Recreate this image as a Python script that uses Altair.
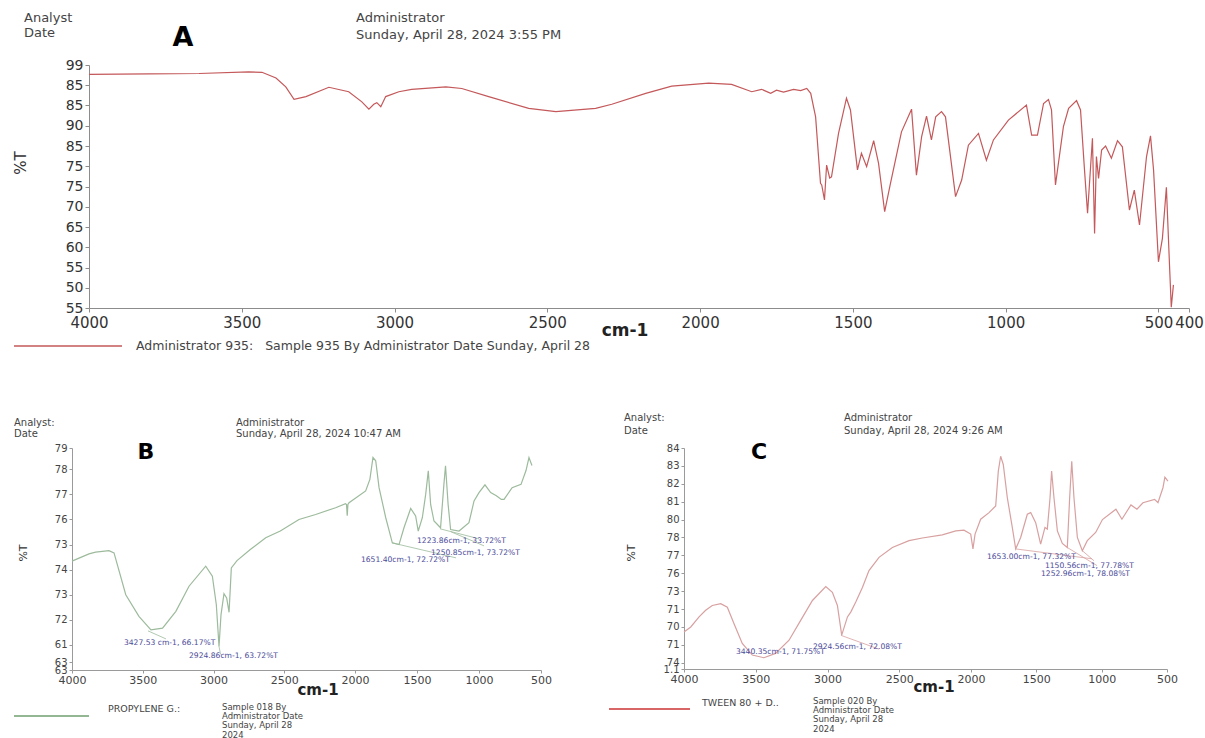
import altair as alt
import pandas as pd

# ---------------- data ----------------
A_wn = [4000,3804,3640,3477,3434,3388,3356,3329,3290,3215,
        3150,3107,3084,3068,3058,3045,3029,2986,2944,2832,
        2780,2692,2561,2472,2342,2289,2178,2093,1972,1897,
        1831,1799,1769,1750,1727,1694,1671,1651,1638,1622,
        1606,1602,1593,1586,1576,1570,1547,1521,1508,1485,
        1472,1455,1432,1416,1396,1377,1341,1308,1292,1275,
        1259,1243,1229,1210,1197,1164,1144,1122,1089,1063,
        1040,991,932,915,896,876,860,850,837,811,
        794,768,755,742,732,716,709,703,696,686,
        673,654,634,618,595,579,562,539,526,516,
        500,487,474,464,458,451]
A_T = [97.7,97.8,97.9,98.3,98.2,96.8,94.6,91.5,92.2,94.5,
       93.4,90.9,89.1,90.3,90.7,89.7,92.2,93.4,94.0,94.6,
       94.2,92.2,89.3,88.5,89.3,90.3,93.0,94.8,95.5,95.2,
       93.4,94.0,93.0,93.8,93.3,94.0,93.7,94.2,93.0,87.2,
       70.8,70.4,66.7,75.3,72.1,72.4,83.1,91.8,88.9,74.1,
       78.2,74.9,81.3,75.7,63.8,70.8,83.5,89.1,72.8,82.3,
       87.4,81.5,87.2,88.5,87.2,67.5,71.6,80.2,83.1,76.5,
       81.5,86.4,90.1,82.7,82.7,90.5,91.5,88.9,70.4,84.8,
       89.3,91.2,88.9,74.1,63.4,81.9,58.4,77.4,72.0,79.0,
       80.0,77.0,81.3,79.8,64.2,69.1,60.5,77.4,82.5,74.1,
       51.4,57.2,69.8,51.0,40.2,45.7]

B_wn = [4000,3880,3833,3739,3703,3620,3527,3442,3360,3266,
        3173,3055,3008,2980,2961,2947,2926,2907,2890,2874,
        2834,2740,2631,2528,2396,2278,2137,2067,2060,2055,
        2050,2042,1914,1880,1855,1833,1806,1752,1699,1645,
        1605,1551,1511,1490,1457,1430,1409,1390,1363,1310,
        1283,1270,1249,1229,1161,1081,1040,1000,952,906,
        860,820,798,733,661,621,597,573]
B_T = [74.34,74.63,74.70,74.76,74.67,73.00,72.14,71.60,71.67,72.34,
       73.34,74.14,73.74,72.60,70.94,72.20,73.04,72.87,72.30,74.07,
       74.36,74.80,75.27,75.54,76.00,76.20,76.47,76.63,76.60,76.15,
       76.60,76.67,77.14,77.60,78.47,78.34,77.27,76.07,75.07,75.00,
       75.67,76.44,76.14,75.54,76.07,77.00,77.94,76.60,75.94,75.67,
       77.40,78.14,76.60,75.60,75.54,75.87,76.74,77.07,77.38,77.07,
       76.95,76.80,76.80,77.27,77.40,77.95,78.47,78.15]

C_wn = [4000,3953,3895,3849,3803,3744,3698,3652,3594,3524,
        3443,3362,3268,3187,3105,3012,2966,2931,2901,2861,
        2838,2803,2756,2711,2641,2548,2432,2339,2200,2106,
        2049,2002,1985,1969,1926,1862,1811,1791,1773,1753,
        1722,1684,1658,1620,1569,1543,1505,1467,1434,1416,
        1395,1383,1365,1339,1301,1263,1245,1229,1212,1186,
        1148,1110,1046,994,891,845,776,730,684,595,
        569,531,516,493]
C_T = [73.72,74.00,74.56,74.93,75.20,75.30,75.10,74.19,73.08,72.43,
       72.28,72.52,73.26,74.37,75.48,76.26,75.94,75.20,73.54,74.56,
       74.83,75.40,76.22,77.15,77.89,78.44,78.82,78.97,79.15,79.37,
       79.41,79.19,78.36,79.19,80.02,80.39,80.76,82.71,83.54,83.08,
       81.22,79.56,78.36,79.00,80.30,80.39,79.83,78.63,79.56,79.47,
       81.22,82.71,81.22,79.37,78.67,78.44,81.22,83.26,81.22,79.00,
       78.26,78.82,79.28,80.00,80.58,80.02,80.82,80.58,80.94,81.13,
       80.94,81.78,82.37,82.15]

# peak annotations (position in data units, label text)
B_ann_wn = [3633, 3173, 1952, 1500, 1387]
B_ann_T = [71.07, 70.55, 74.39, 75.15, 74.67]
B_ann_txt = ["3427.53 cm-1, 66.17%T", "2924.86cm-1, 63.72%T", "1651.40cm-1, 72.72%T",
             "1223.86cm-1, 33.72%T", "1250.85cm-1, 73.72%T"]
B_lead_wn = [3463, 2961, 1702, 1315, 1226]
B_lead_T = [71.56, 70.94, 75.07, 75.63, 75.51]
B_lead_wn2 = [3336, 2950, 1185, 1000, 960]
B_lead_T2 = [71.24, 70.62, 74.47, 75.23, 74.95]

C_ann_wn = [3638, 3101, 1878, 1434, 1464]
C_ann_T = [72.59, 72.87, 77.92, 77.40, 76.98]
C_ann_txt = ["3440.35cm-1, 71.75%T", "2924.56cm-1, 72.08%T", "1653.00cm-1, 77.32%T",
             "1150.56cm-1, 77.78%T", "1252.96cm-1, 78.08%T"]
C_lead_wn = [2906, 1658, 1263, 1148]
C_lead_T = [73.53, 78.36, 78.44, 78.26]
C_lead_wn2 = [2641, 1074, 1036, 1059]
C_lead_T2 = [72.76, 77.81, 77.43, 77.70]

# tick values and the (printed) tick labels
A_yticks = [40, 45, 50, 55, 60, 65, 70, 75, 80, 85, 90, 95, 100]
A_ylabels = ["55", "50", "55", "60", "65", "70", "75", "75", "85", "90", "85", "85", "99"]
B_yticks = [70, 70.3, 71, 72, 73, 74, 75, 76, 77, 78, 78.85]
B_ylabels = ["63", "63", "61", "72", "73", "74", "73", "76", "77", "78", "79"]
C_yticks = [71.65, 72, 73, 74, 75, 76, 77, 78, 79, 80, 81, 82, 83, 84]
C_ylabels = ["1.1", "74", "71", "70", "71", "73", "76", "77", "78", "80", "81", "82", "83", "84"]
A_xticks = [4000, 3500, 3000, 2500, 2000, 1500, 1000, 500, 400]
BC_xticks = [4000, 3500, 3000, 2500, 2000, 1500, 1000, 500]

FONT = "DejaVu Sans"
ONE = alt.Data(values=[{"k": 0}])
NB = "\u00a0"


def label_expr(vals, labs):
    arr = "[" + ",".join("'" + l + "'" for l in labs) + "]"
    v = "[" + ",".join(str(x) for x in vals) + "]"
    return arr + "[indexof(" + v + ", datum.value)]"


def txt(s, x, y, size=11, color="#444444", align="left", baseline="middle",
        weight="normal", font=FONT, angle=None, lineHeight=None):
    kw = dict(align=align, baseline=baseline, fontSize=size, color=color,
              fontWeight=weight, font=font)
    if angle is not None:
        kw["angle"] = angle
    if lineHeight is not None:
        kw["lineHeight"] = lineHeight
    return alt.Chart(ONE).mark_text(**kw).encode(
        x=alt.value(x), y=alt.value(y), text=alt.value(s))


def legend_rule(x1, x2, y, color):
    return alt.Chart(ONE).mark_rule(color=color, strokeWidth=1.5).encode(
        x=alt.value(x1), x2=alt.value(x2), y=alt.value(y))


# ---------------- panel A ----------------
A_W, A_H = 1117, 243
xA = alt.X("wn:Q", scale=alt.Scale(domain=[4000, 400], range=[17, 1117]),
           axis=alt.Axis(values=A_xticks, title=None, format="d", labelFontSize=15,
                         labelFont=FONT, labelColor="#333333", domainColor="#8c8c8c",
                         tickColor="#8c8c8c", tickSize=4, labelOverlap=False,
                         labelFlush=False, labelPadding=3))
yA = alt.Y("T:Q", scale=alt.Scale(domain=[40, 100], zero=False, nice=False),
           axis=alt.Axis(values=A_yticks, title=None, labelExpr=label_expr(A_yticks, A_ylabels),
                         labelFontSize=14, labelFont=FONT, labelColor="#333333",
                         domainColor="#8c8c8c", tickColor="#8c8c8c", tickSize=4,
                         offset=-17, labelOverlap=False, labelPadding=2))
dfA = pd.DataFrame({"wn": A_wn, "T": A_T})
lineA = alt.Chart(dfA).mark_line(color="#c4585a", strokeWidth=1.2).encode(x=xA, y=yA)
panelA = alt.layer(
    lineA,
    txt("Analyst", -48, -53, size=13, baseline="top"),
    txt("Date", -48, -32, size=13),
    txt("Administrator", 284, -53, size=13, baseline="top"),
    txt("Sunday, April 28, 2024 3:55 PM", 284, -30, size=13),
    txt("A", 111, -27, size=27, color="#000000", align="center", weight="bold"),
    txt("%T", -51, 98, size=15, color="#333333", align="center", angle=270),
    txt("cm-1", 553, 266, size=17, color="#222222", align="center", weight="bold"),
    legend_rule(-58, 50, 281, "#c4585a"),
    txt("Administrator 935:" + NB * 3 + "Sample 935 By Administrator Date Sunday, April 28",
        64, 281, size=12.5),
).properties(width=A_W, height=A_H)


# ---------------- panels B and C ----------------
def small_panel(wn, T, ann_wn, ann_T, ann_txt, l_wn, l_T, l_wn2, l_T2, yticks, ylabels,
                ydom, xrange_, W, H, color, legend_color, header, letter, leg1, leg2, pos):
    xs = alt.X("wn:Q", scale=alt.Scale(domain=[4000, 2000, 500], range=xrange_),
               axis=alt.Axis(values=BC_xticks, title=None, format="d", labelFontSize=11,
                             labelFont=FONT, labelColor="#444444", domainColor="#9a9a9a",
                             tickColor="#9a9a9a", tickSize=3, labelOverlap=False,
                             labelFlush=False, labelPadding=1))
    ys = alt.Y("T:Q", scale=alt.Scale(domain=ydom, zero=False, nice=False),
               axis=alt.Axis(values=yticks, title=None, labelExpr=label_expr(yticks, ylabels),
                             labelFontSize=10, labelFont=FONT, labelColor="#444444",
                             domainColor="#9a9a9a", tickColor="#9a9a9a", tickSize=3,
                             labelOverlap=False, labelPadding=2))
    df = pd.DataFrame({"wn": wn, "T": T})
    line = alt.Chart(df).mark_line(color=color, strokeWidth=1.2).encode(x=xs, y=ys)
    dfa = pd.DataFrame({"wn": ann_wn, "T": ann_T, "lab": ann_txt})
    ann = alt.Chart(dfa).mark_text(align="left", baseline="middle", fontSize=7.6,
                                   color="#4b4b99", font=FONT).encode(x=xs, y=ys, text="lab:N")
    dfl = pd.DataFrame({"wn": l_wn, "T": l_T, "wn2": l_wn2, "T2": l_T2})
    lead = alt.Chart(dfl).mark_rule(color=color, strokeWidth=0.8).encode(
        x=xs, y=ys, x2="wn2:Q", y2="T2:Q")
    p = pos
    return alt.layer(
        line, lead, ann,
        txt("Analyst:", p["hx"], p["hy1"], size=10),
        txt("Date", p["hx"], p["hy2"], size=10),
        txt("Administrator", p["ax"], p["hy1"], size=10),
        txt(header, p["ax"], p["hy2"], size=10),
        txt(letter, p["lx"], 4, size=22, color="#000000", align="center", weight="bold"),
        txt("%T", p["tx"], 105, size=11, color="#333333", align="center", angle=270),
        txt("cm-1", p["cx"], p["cy"], size=15, color="#222222", align="center", weight="bold"),
        legend_rule(p["r1"], p["r2"], p["ry"], legend_color),
        txt(leg1, p["n1x"], p["ny"], size=9.5),
        txt(leg2, p["n2x"], p["ny"] - 6, size=8.5, baseline="top", lineHeight=9.2),
    ).properties(width=W, height=H)


panelB = small_panel(
    B_wn, B_T, B_ann_wn, B_ann_T, B_ann_txt, B_lead_wn, B_lead_T, B_lead_wn2, B_lead_T2,
    B_yticks, B_ylabels, [70, 78.85], [0, 283, 469], 469, 222, "#9cba9c", "#6f9f6f",
    "Sunday, April 28, 2024 10:47 AM", "B",
    "PROPYLENE G.:", ["Sample 018 By", "Administrator Date", "Sunday, April 28", "2024"],
    dict(hx=-58, hy1=-25, hy2=-14, ax=164, lx=74, tx=-48, cx=246, cy=242,
         r1=-58, r2=17, ry=268, n1x=36, n2x=150, ny=261))

panelC = small_panel(
    C_wn, C_T, C_ann_wn, C_ann_T, C_ann_txt, C_lead_wn, C_lead_T, C_lead_wn2, C_lead_T2,
    C_yticks, C_ylabels, [71.65, 84], [0, 287, 483], 483, 221, "#d8a0a0", "#cc3333",
    "Sunday, April 28, 2024 9:26 AM", "C",
    "TWEEN 80 + D..", ["Sample 020 By", "Administrator Date", "Sunday, April 28", "2024"],
    dict(hx=-60, hy1=-30, hy2=-17, ax=160, lx=75, tx=-52, cx=250, cy=239,
         r1=-75, r2=6, ry=261, n1x=18, n2x=129, ny=255))

chart = alt.vconcat(
    panelA,
    alt.hconcat(panelB, panelC, spacing=143, bounds="flush"),
    spacing=140, bounds="flush",
).properties(
    padding={"left": 13, "top": 12, "right": 0, "bottom": 0},
    background="#ffffff",
).configure_view(stroke=None).configure_axis(grid=False)

chart.save("out.html", embed_options={"renderer": "svg", "actions": False})
